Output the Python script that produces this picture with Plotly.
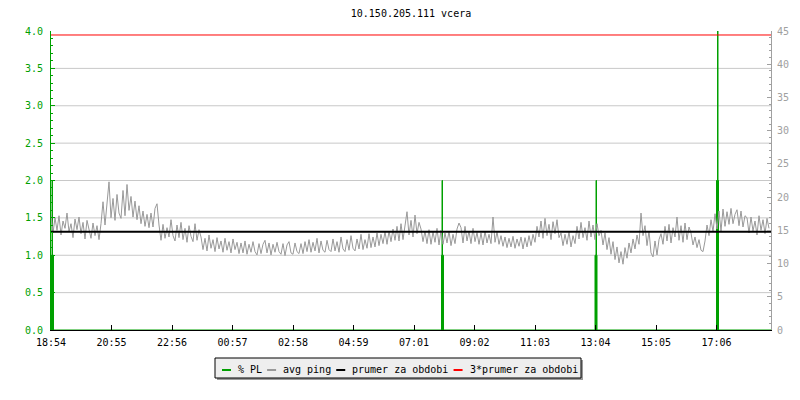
import plotly.graph_objects as go

# ---------------- data ----------------
title_text = "10.150.205.111 vcera"
tick_labels = ["18:54", "20:55", "22:56", "00:57", "02:58", "04:59",
               "07:01", "09:02", "11:03", "13:04", "15:05", "17:06"]
tick_step_min = 121.0          # minutes between time labels
span_min = 1440                # one day
ping_step_min = 4              # sampling step of avg ping

# avg ping [ms], one value every 4 minutes starting at 18:54
avg_ping = [
    17.4, 14.6, 16.9, 15.0, 17.2, 14.3, 16.4, 15.3, 17.6, 14.8, 16.0, 13.9, 16.7, 15.1, 17.0, 14.5, 16.2, 13.7, 16.5, 15.2,
    13.8, 16.1, 14.2, 15.7, 13.6,
    16.0, 19.3, 15.8, 18.6, 22.3, 16.9, 19.8, 16.5, 20.4, 17.6, 16.8, 21.0, 17.2, 21.9, 18.0,
    20.1, 17.0, 19.4, 16.6, 18.7,
    16.0, 17.9, 15.6, 17.4, 15.4, 17.6, 15.5, 18.3, 19.0, 15.8,
    13.5, 15.9, 13.8, 15.4, 14.0, 16.6, 14.2, 13.4, 15.8, 13.9, 16.2, 13.6, 15.3, 13.2, 15.7, 14.1, 13.3, 16.0, 13.5, 15.1,
    14.0, 12.1, 13.8, 11.9, 14.3, 12.3, 13.6, 11.8, 13.9, 12.2, 13.4, 11.7, 13.8, 12.0, 13.3, 11.6, 13.7, 12.1, 13.2, 11.5,
    13.1, 11.6, 13.4, 11.4, 12.9, 11.7, 13.3, 11.8, 11.3, 13.0, 11.5, 12.9, 13.5, 11.6, 13.1, 11.3, 12.9, 11.7, 13.2, 11.8,
    11.4, 13.0, 11.2, 12.8, 13.3, 11.6, 11.4, 13.1, 11.8, 11.5,
    13.0, 11.5, 13.3, 11.8, 13.6, 11.7, 13.2, 11.9, 13.8, 11.6, 13.4, 12.0, 11.7, 13.5, 12.1, 11.8, 13.7, 11.9, 13.3, 11.7,
    14.0, 12.2, 11.8, 13.6, 12.0, 14.2, 12.3, 11.9, 13.7, 12.2, 14.4, 12.1, 13.6, 12.3, 14.5, 12.4, 14.0, 12.5, 14.6, 12.7,
    14.4, 13.0, 14.8, 12.9, 14.9, 13.3, 15.2, 13.5, 15.6, 13.4,
    16.0, 13.6, 15.8, 17.8, 14.3, 16.5, 14.0, 17.3, 14.5, 16.2,
    15.2, 13.3, 14.9, 13.0, 15.1, 12.9, 14.8, 13.2, 15.3, 12.8,
    15.0, 12.9, 14.6, 13.1, 14.9, 12.7, 14.4, 13.0, 15.2, 16.1,
    15.4, 13.1, 15.6, 13.4, 14.9, 13.0, 15.3, 13.3, 14.7, 12.9,
    14.6, 12.8, 14.9, 13.1, 14.4, 13.0, 17.0, 13.2, 14.8, 12.9,
    14.2, 12.6, 14.0, 12.4, 13.8, 12.5, 14.1, 12.3, 13.7, 12.6, 14.0, 12.2, 13.9, 12.5, 14.2, 12.7, 14.4, 13.2, 15.6, 14.0,
    16.4, 13.8, 16.8, 14.2, 15.9, 13.6, 16.3, 14.5, 16.6, 13.9,
    14.6, 12.7, 14.4, 12.9, 14.8, 12.5, 14.2, 13.0,
    15.6, 13.7, 16.2, 13.9, 15.4, 13.5, 16.4, 14.0, 15.8, 13.6, 16.0, 14.2,
    15.0, 12.8, 14.6, 12.1, 13.9, 11.4, 13.3, 10.6, 12.5, 10.1, 11.8, 9.9,
    12.4, 10.8, 13.1, 11.6, 13.7, 12.2, 14.3, 12.9,
    17.6, 14.2, 15.7, 12.7, 14.9, 11.6, 11.0, 13.4, 11.3, 13.6,
    14.5, 12.9, 15.6, 13.4, 15.9, 13.1, 15.4, 14.0, 17.0, 13.5, 15.7, 13.2, 16.1, 13.6, 15.5,
    14.6, 12.8, 14.0, 12.4, 13.6, 12.0, 11.8, 13.4,
    15.8, 14.2, 16.6, 14.8, 17.5, 15.2, 17.9, 14.9,
    18.2, 15.6, 17.8, 15.9, 18.3, 16.0, 17.4, 18.1, 15.7, 17.9, 15.5, 17.2,
    16.9, 14.6, 17.0, 14.9, 16.4, 14.3, 17.2, 15.0, 16.6, 14.5, 16.8, 15.3,
]
ping_minutes = [i * ping_step_min for i in range(len(avg_ping))]

# packet loss [%]
pl_minutes = [0, 1, 2, 3, 5,
              780, 781, 782, 783, 785,
              1087, 1088, 1090, 1091, 1092,
              1330, 1331, 1333, 1334, 1335,
              1440]
pl_values = [0, 1, 2, 1, 0,
             0, 1, 2, 1, 0,
             0, 1, 2, 1, 0,
             0, 2, 4, 2, 0,
             0]

mean_ping = 14.8               # "prumer za obdobi"
triple_mean = 3 * mean_ping    # "3*prumer za obdobi"

series_names = ["% PL", "avg ping", "prumer za obdobi", "3*prumer za obdobi"]
series_colors = ["#00a000", "#999999", "#000000", "#ff0000"]

# ---------------- layout geometry ----------------
# page coordinates; the html body has an 8px margin, so the figure is shrunk/shifted
OFF = 8
PAGE_W, PAGE_H = 800, 400
PL_X0, PL_X1, PL_Y0, PL_Y1 = 51, 771, 31, 330       # plot area in page pixels
W, H = PAGE_W - OFF, PAGE_H - OFF
ML, MT = PL_X0 - OFF, PL_Y0 - OFF
MR, MB = OFF + W - PL_X1, OFF + H - PL_Y1
PW, PH = PL_X1 - PL_X0, PL_Y1 - PL_Y0
FONT = "DejaVu Sans Mono"


def px(x):
    return (x - PL_X0) / PW


def py(y):
    return (PL_Y1 - y) / PH


fig = go.Figure()

fig.add_trace(go.Scatter(x=pl_minutes, y=pl_values, mode="lines", yaxis="y",
                         line=dict(color=series_colors[0], width=1, shape="hv"),
                         fill="tozeroy", fillcolor=series_colors[0],
                         name=series_names[0], showlegend=False, hoverinfo="skip"))
fig.add_trace(go.Scatter(x=ping_minutes, y=avg_ping, mode="lines", yaxis="y2",
                         line=dict(color=series_colors[1], width=1),
                         name=series_names[1], showlegend=False))
fig.add_trace(go.Scatter(x=[0, span_min], y=[mean_ping, mean_ping], mode="lines", yaxis="y2",
                         line=dict(color=series_colors[2], width=2),
                         name=series_names[2], showlegend=False))
fig.add_trace(go.Scatter(x=[0, span_min], y=[triple_mean, triple_mean], mode="lines", yaxis="y2",
                         line=dict(color=series_colors[3], width=1),
                         name=series_names[3], showlegend=False))

shapes = []
# horizontal grid lines (left axis, every 0.5 except ends)
for g in [0.5, 1.0, 1.5, 2.0, 2.5, 3.0, 3.5]:
    shapes.append(dict(type="line", xref="paper", yref="y", x0=0, x1=1, y0=g, y1=g,
                       line=dict(color="#c8c8c8", width=1), layer="below"))

# custom legend
box_x0, box_x1, box_y0, box_y1 = 215, 581, 358, 378
shapes.append(dict(type="rect", xref="paper", yref="paper",
                   x0=px(box_x0 + 2), x1=px(box_x1 + 2), y0=py(box_y0 + 2), y1=py(box_y1 + 2),
                   fillcolor="#9a9a9a", line=dict(width=0)))
shapes.append(dict(type="rect", xref="paper", yref="paper",
                   x0=px(box_x0), x1=px(box_x1), y0=py(box_y0), y1=py(box_y1),
                   fillcolor="#eeeeee", line=dict(color="#000000", width=1)))
annotations = []
cx = 222
cy = 370
for name, col in zip(series_names, series_colors):
    shapes.append(dict(type="line", xref="paper", yref="paper",
                       x0=px(cx), x1=px(cx + 9), y0=py(cy), y1=py(cy),
                       line=dict(color=col, width=2)))
    annotations.append(dict(xref="paper", yref="paper", x=px(cx + 14), y=py(cy - 1),
                            text=name, showarrow=False, xanchor="left", yanchor="middle",
                            font=dict(family=FONT, size=10, color="#000000")))
    cx += 14 + len(name) * 6.02 + 7

fig.update_layout(
    width=W, height=H,
    margin=dict(l=ML, r=MR, t=MT, b=MB, autoexpand=False),
    paper_bgcolor="white", plot_bgcolor="white",
    showlegend=False,
    title=dict(text=title_text, x=0.5, xref="paper", y=1 - (13 - OFF) / H, yanchor="middle",
               font=dict(family=FONT, size=10, color="#000000")),
    font=dict(family=FONT, size=10, color="#000000"),
    xaxis=dict(range=[0, span_min], showgrid=False, zeroline=False,
               tickvals=[i * tick_step_min for i in range(len(tick_labels))],
               ticktext=tick_labels, ticks="inside", ticklen=5, tickcolor="#000000",
               ticklabelstandoff=3,
               showline=True, linecolor="#000000", linewidth=1,
               tickfont=dict(family=FONT, size=10, color="#000000")),
    yaxis=dict(range=[0, 4], showgrid=False, zeroline=False, dtick=0.5, tickformat=".1f",
               ticks="inside", ticklen=4, tickcolor="#00a000", ticklabelstandoff=5,
               showline=True, linecolor="#00a000", linewidth=1,
               tickfont=dict(family=FONT, size=10, color="#00a000"),
               minor=dict(dtick=0.1, ticks="inside", ticklen=2, tickcolor="#00a000")),
    yaxis2=dict(range=[0, 45], overlaying="y", side="right", anchor="x",
                showgrid=False, zeroline=False, dtick=5,
                ticks="inside", ticklen=4, tickcolor="#a0a0a0", ticklabelstandoff=3,
                showline=True, linecolor="#a0a0a0", linewidth=1,
                tickfont=dict(family=FONT, size=10, color="#a0a0a0"),
                minor=dict(dtick=1, ticks="inside", ticklen=2, tickcolor="#a0a0a0")),
    shapes=shapes,
    annotations=annotations,
)

fig.write_html("out.html")
